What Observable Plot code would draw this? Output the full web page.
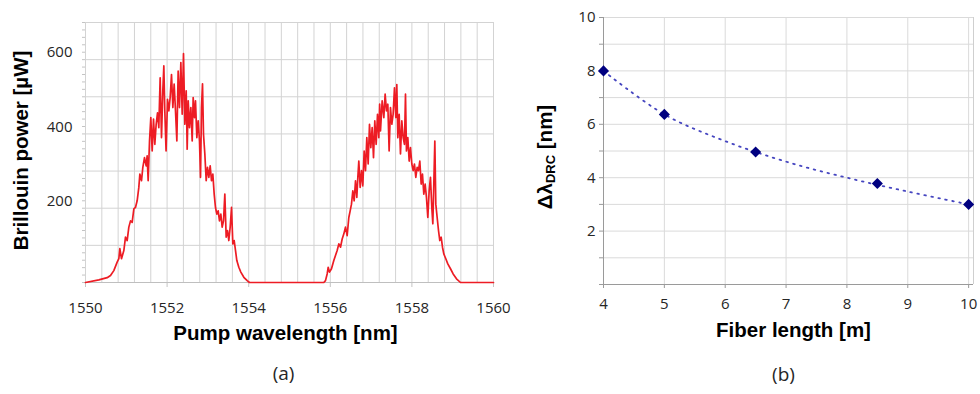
<!DOCTYPE html>
<html><head><meta charset="utf-8">
<script src="https://cdn.jsdelivr.net/npm/d3@7"></script>
<script src="https://cdn.jsdelivr.net/npm/@observablehq/plot@0.6"></script>
<style>
body{margin:0;background:#fff;}
#wrap{position:relative;width:980px;height:394px;overflow:hidden;background:#fff;}
#wrap svg{display:block;position:absolute;top:0;}
</style></head><body><div id="wrap"></div>
<script>
// Panel (a): Brillouin power vs pump wavelength
const wavelength = [
1550.000,1550.327,1550.531,1550.613,1550.694,1550.776,1550.817,1550.842,1550.882,1550.940,
1550.980,1551.021,1551.062,1551.103,1551.144,1551.185,1551.225,1551.266,1551.307,1551.332,
1551.373,1551.405,1551.446,1551.487,1551.511,1551.536,1551.569,1551.601,1551.634,1551.667,
1551.699,1551.732,1551.765,1551.797,1551.830,1551.863,1551.895,1551.920,1551.944,1551.975,
1552.010,1552.043,1552.075,1552.108,1552.141,1552.173,1552.206,1552.239,1552.271,1552.304,
1552.337,1552.370,1552.402,1552.435,1552.468,1552.492,1552.517,1552.549,1552.582,1552.615,
1552.639,1552.672,1552.696,1552.729,1552.762,1552.794,1552.819,1552.843,1552.868,1552.892,
1552.925,1552.958,1552.990,1553.023,1553.056,1553.088,1553.121,1553.154,1553.186,1553.219,
1553.252,1553.284,1553.317,1553.350,1553.383,1553.415,1553.448,1553.481,1553.513,1553.546,
1553.579,1553.611,1553.644,1553.677,1553.709,1553.758,1553.807,1553.881,1553.963,1554.020,
1555.841,1555.882,1555.923,1555.948,1555.980,1556.029,1556.086,1556.127,1556.168,1556.209,
1556.250,1556.291,1556.332,1556.372,1556.413,1556.454,1556.487,1556.519,1556.552,1556.585,
1556.618,1556.650,1556.675,1556.699,1556.732,1556.765,1556.797,1556.830,1556.863,1556.895,
1556.928,1556.961,1556.993,1557.026,1557.059,1557.091,1557.124,1557.157,1557.189,1557.210,
1557.230,1557.271,1557.312,1557.344,1557.377,1557.410,1557.442,1557.475,1557.508,1557.540,
1557.573,1557.606,1557.630,1557.655,1557.688,1557.720,1557.753,1557.786,1557.818,1557.843,
1557.867,1557.900,1557.933,1557.965,1557.998,1558.031,1558.063,1558.096,1558.129,1558.161,
1558.194,1558.227,1558.259,1558.292,1558.325,1558.357,1558.390,1558.423,1558.455,1558.488,
1558.513,1558.537,1558.562,1558.586,1558.619,1558.652,1558.684,1558.717,1558.750,1558.782,
1558.831,1558.880,1558.946,1559.011,1559.093,1559.191,1560.000
];
const power = [
0,7,13,19,32,55,64,91,64,86,
122,113,149,166,162,198,202,220,256,292,
274,310,336,314,341,274,381,444,354,440,
372,426,457,417,551,390,516,583,462,354,
493,462,498,560,471,534,462,381,569,471,
592,453,616,426,516,359,489,417,471,381,
498,444,489,390,435,381,283,471,535,399,
346,274,310,283,314,274,292,238,202,184,
193,166,184,149,166,238,122,140,113,149,
202,104,113,86,59,41,28,14,5,0,
0,5,23,41,28,37,59,73,86,104,
95,117,131,149,126,175,193,211,247,220,
274,229,283,327,256,301,260,354,301,390,
319,426,363,417,336,435,372,453,390,480,
408,489,444,507,462,480,354,471,426,453,
524,444,533,390,453,346,435,390,372,507,
354,390,327,363,319,301,319,283,310,301,
327,265,292,238,265,229,175,247,283,202,
158,265,381,211,175,140,113,122,95,77,
64,50,37,23,10,0,0
];
const xTicksA = [1550, 1552, 1554, 1556, 1558, 1560];
const yTicksA = [200, 400, 600];

// Panel (b): DRC width vs fiber length
const fiberLength = [4, 5, 6.5, 8.5, 10];
const deltaLambda = [8.0, 6.37, 4.96, 3.78, 3.0];
const trendLength = [4, 5, 6, 7, 8, 9, 10];
const trendDelta = [8.0, 6.37, 5.37, 4.6, 4.0, 3.48, 3.0];
const xTicksB = [4, 5, 6, 7, 8, 9, 10];
const yTicksB = [2, 4, 6, 8, 10];

const spectrum = wavelength.map((w, i) => ({w, p: power[i]}));
const points = fiberLength.map((x, i) => ({x, y: deltaLambda[i]}));
const trend = trendLength.map((x, i) => ({x, y: trendDelta[i]}));

const tickFont = "'Open Sans', sans-serif";
const titleFont = "'Liberation Sans', Arial, sans-serif";
const gridA = "#d3d3d3";
const gridB = "#dadada";

const chartA = Plot.plot({
  width: 500, height: 394,
  marginLeft: 85, marginRight: 7, marginTop: 22, marginBottom: 112,
  style: {fontFamily: tickFont, fontSize: "15px", color: "#262626", background: "transparent", overflow: "visible"},
  x: {domain: [1550, 1560]},
  y: {domain: [0, 700]},
  marks: [
    Plot.gridX(d3.range(0, 26).map(i => 1550 + i * 0.4), {stroke: gridA, strokeOpacity: 1}),
    Plot.gridY(d3.range(0, 8).map(i => i * 100), {stroke: gridA, strokeOpacity: 1}),
    Plot.axisY(d3.range(0, 701, 20), {tickSize: 3, tickFormat: () => "", stroke: "#c4c4c4", label: null}),
    Plot.axisY(yTicksA, {tickSize: 0, tickPadding: 13, dy: -7, tickFormat: d => String(d), label: null}),
    Plot.axisX(xTicksA, {tickSize: 5, tickPadding: 15, stroke: "#c4c4c4", tickFormat: d => String(d), label: null}),
    Plot.ruleY([0], {stroke: "#bfbfbf"}),
    Plot.line(spectrum, {x: "w", y: "p", stroke: "#ed1c24", strokeWidth: 1.7}),
    Plot.text(["Pump wavelength [nm]"], {frameAnchor: "bottom", dy: 57, dx: -4, fontSize: 20.5, fontWeight: "bold", fontFamily: titleFont, fill: "#000"}),
    Plot.text(["Brillouin power [µW]"], {frameAnchor: "left", textAnchor: "middle", rotate: -90, dx: -64, dy: -2, fontSize: 20.5, fontWeight: "bold", fontFamily: titleFont, fill: "#000"}),
    Plot.text(["(a)"], {frameAnchor: "bottom", dy: 97, dx: -6, fontSize: 19, fill: "#262626"})
  ]
});

const chartB = Plot.plot({
  width: 480, height: 394,
  marginLeft: 103, marginRight: 7, marginTop: 17, marginBottom: 110,
  style: {fontFamily: tickFont, fontSize: "15px", color: "#262626", background: "transparent", overflow: "visible"},
  x: {domain: [4, 10.08]},
  y: {domain: [0, 10]},
  marks: [
    Plot.gridX(xTicksB, {stroke: gridB, strokeOpacity: 1}),
    Plot.gridY(d3.range(0, 11), {stroke: gridB, strokeOpacity: 1}),
    Plot.ruleX([10.08], {stroke: "#cfcfcf"}),
    Plot.axisY(d3.range(0, 11), {tickSize: 4, tickFormat: () => "", stroke: "#9a9a9a", label: null}),
    Plot.axisY(yTicksB, {tickSize: 0, tickPadding: 8, tickFormat: d => String(d), label: null}),
    Plot.axisX(xTicksB, {tickSize: 4, tickPadding: 10, stroke: "#9a9a9a", tickFormat: d => String(d), label: null}),
    Plot.ruleX([4], {stroke: "#9a9a9a"}),
    Plot.ruleY([0], {stroke: "#9a9a9a"}),
    Plot.line(trend, {x: "x", y: "y", curve: "catmull-rom", stroke: "#4646c0", strokeWidth: 1.8, strokeDasharray: "1.6,5.5"}),
    Plot.dot(points, {x: "x", y: "y", symbol: "diamond2", r: 5, fill: "#000080", stroke: "none"}),
    Plot.text(["Fiber length [m]"], {frameAnchor: "bottom", dy: 52, dx: 5, fontSize: 20.5, fontWeight: "bold", fontFamily: titleFont, fill: "#000"}),
    Plot.text(["(b)"], {frameAnchor: "bottom", dy: 96, dx: -5, fontSize: 19, fill: "#262626"})
  ]
});

// Y label with subscript for panel (b)
const lab = d3.select(chartB).append("text")
  .attr("transform", "translate(47,157) rotate(-90)")
  .attr("text-anchor", "middle")
  .attr("dominant-baseline", "middle")
  .attr("font-family", titleFont)
  .attr("font-weight", "bold")
  .attr("font-size", 20.5)
  .attr("fill", "#000");
lab.append("tspan").text("Δλ");
lab.append("tspan").attr("font-size", 13).attr("dy", 5).text("DRC");
lab.append("tspan").attr("dy", -5).text(" [nm]");

const wrap = document.getElementById("wrap");
chartB.style.left = "500px";
chartA.style.left = "0px";
wrap.appendChild(chartB);
wrap.appendChild(chartA);
</script>
</body></html>
